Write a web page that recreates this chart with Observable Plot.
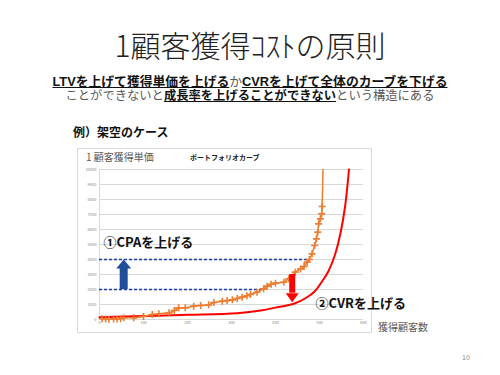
<!DOCTYPE html>
<html><head><meta charset="utf-8">
<script src="https://cdn.jsdelivr.net/npm/d3@7"></script>
<script src="https://cdn.jsdelivr.net/npm/@observablehq/plot@0.6"></script>
<style>
body{margin:0;background:#fff;font-family:"Noto Sans CJK JP","Noto Sans",sans-serif;}
#page{position:relative;width:500px;height:375px;overflow:hidden;background:#fff;}
.abs{position:absolute;white-space:nowrap;line-height:1;}
.sub{font-family:"Liberation Sans","Noto Sans CJK JP",sans-serif;}
.b{font-weight:bold;color:#111;text-decoration:underline;text-decoration-thickness:1px;text-underline-offset:1px;}
</style></head>
<body><div id="page">
<div class="abs" style="left:0;width:500px;top:29px;text-align:center;font-size:30px;font-weight:300;color:#222;">1顧客獲得ｺｽﾄの原則</div>
<div class="abs sub" style="left:0;width:500px;top:75px;height:13px;text-align:center;font-size:12.8px;line-height:13px;color:#595959;"><span class="b">LTVを上げて獲得単価を上げる</span>か<span class="b">CVRを上げて全体のカーブを下げる</span></div>
<div class="abs sub" style="left:0;width:500px;top:90px;height:13px;text-align:center;font-size:12.3px;line-height:13px;color:#595959;">ことができないと<span class="b">成長率を上げることができない</span>という構造にある</div>
<div class="abs" style="left:73px;top:126px;font-size:12px;font-weight:bold;color:#111;">例）架空のケース</div>
<div class="abs" style="left:77px;top:148px;width:295px;height:185px;border:1px solid #d9d9d9;box-sizing:border-box;"></div>
<div class="abs" style="left:86px;top:152px;font-size:10px;color:#595959;">1 顧客獲得単価</div>
<div class="abs" style="left:190px;top:154px;font-size:7px;font-weight:bold;color:#222;">ポートフォリオカーブ</div>
<div id="chart" style="position:absolute;left:77px;top:148px;"></div>
<div class="abs" style="left:378px;top:322px;font-size:10px;color:#595959;">獲得顧客数</div>
<div class="abs" style="left:462px;top:354px;font-size:7px;color:#888;">10</div>
</div>
<script>
// Portfolio curve (orange)
const portX = [6, 14, 21, 32, 40, 48, 55, 78, 100, 120, 135, 158, 170, 180, 195, 214, 230, 248, 260, 279, 290, 302, 313, 324, 335, 343, 358, 373, 381, 390, 400, 419, 430, 445, 457, 465, 472, 477, 483, 489, 493, 496, 498, 502, 505, 506, 508];
const portY = [50, 30, 20, 40, 40, 50, 111, 110, 200, 333, 378, 444, 600, 778, 778, 889, 930, 978, 1133, 1222, 1260, 1311, 1400, 1489, 1580, 1667, 1822, 2044, 2222, 2350, 2422, 2489, 2711, 3156, 3378, 3533, 3822, 4000, 4378, 4933, 5378, 5822, 6378, 6711, 7044, 7533, 10000];
// CVR-improved curve (red)
const cvrX = [0, 100, 200, 313, 370, 410, 442, 470, 490, 505, 520, 535, 548, 558, 567];
const cvrY = [150, 230, 310, 420, 620, 850, 1050, 1450, 1900, 2500, 3200, 4300, 5800, 7500, 10000];
// Ticks
const xTicks = [0, 100, 200, 300, 400, 500, 600];
const yTicks = [0, 1000, 2000, 3000, 4000, 5000, 6000, 7000, 8000, 9000, 10000];
// Annotations
const cpaLevels = [{y: 2000, x2: 375}, {y: 4000, x2: 476}];
const cpaArrow = {x: 55, from: 2000, to: 4000};
const cvrArrow = {x: 438, from: 3000, to: 1150};
const labels = [
  {x: 9, y: 5130, text: "①CPAを上げる"},
  {x: 491, y: 1070, text: "②CVRを上げる"}
];

const portfolio = portX.map((x, i) => ({x, y: portY[i]}));
const cvr = cvrX.map((x, i) => ({x, y: cvrY[i]}));
const headUnits = 9 / 0.015;

const arrowUp = {draw(ctx){ ctx.moveTo(0,0); ctx.lineTo(7.5,9); ctx.lineTo(-7.5,9); ctx.closePath(); }};
const arrowDown = {draw(ctx){ ctx.moveTo(0,0); ctx.lineTo(6.5,-9); ctx.lineTo(-6.5,-9); ctx.closePath(); }};

const chart = Plot.plot({
  width: 295, height: 185,
  marginLeft: 22, marginRight: 9, marginTop: 21, marginBottom: 14,
  style: {overflow: "visible", background: "transparent", fontFamily: "'Noto Sans CJK JP', sans-serif"},
  x: {domain: [0, 600]},
  y: {domain: [0, 10000]},
  marks: [
    Plot.gridY(yTicks, {stroke: "#d9d9d9", strokeOpacity: 1, strokeWidth: 1}),
    Plot.ruleX([0], {stroke: "#d9d9d9"}),
    Plot.axisX(xTicks, {tickSize: 0, tickPadding: 2, fontSize: 4, color: "#888", tickFormat: "d", label: null}),
    Plot.axisY(yTicks, {tickSize: 0, tickPadding: 3, fontSize: 4, color: "#888", tickFormat: "d", label: null}),
    Plot.ruleY(cpaLevels, {y: "y", x1: 0, x2: "x2", stroke: "#1a3fa8", strokeWidth: 1.3, strokeDasharray: "3,2"}),
    Plot.line(cvr, {x: "x", y: "y", stroke: "#ff0000", strokeWidth: 2, curve: "catmull-rom"}),
    Plot.line(portfolio, {x: "x", y: "y", stroke: "#ed7d31", strokeWidth: 1.5}),
    Plot.dot(portfolio.slice(0, -1), {x: "x", y: "y", symbol: "plus", r: 2.4, stroke: "#ed7d31", strokeWidth: 1.6, fill: "none"}),
    Plot.ruleX([cpaArrow], {x: "x", y1: "from", y2: d => d.to - headUnits, stroke: "#1f4e9a", strokeWidth: 8}),
    Plot.dot([cpaArrow], {x: "x", y: "to", symbol: arrowUp, fill: "#1f4e9a", stroke: "none"}),
    Plot.ruleX([cvrArrow], {x: "x", y1: "from", y2: d => d.to + headUnits, stroke: "#ff0000", strokeWidth: 6}),
    Plot.dot([cvrArrow], {x: "x", y: "to", symbol: arrowDown, fill: "#ff0000", stroke: "none"}),
    Plot.text(labels, {x: "x", y: "y", text: "text", textAnchor: "start", fontSize: 13, fontWeight: "bold", fill: "#111"})
  ]
});
document.getElementById("chart").appendChild(chart);
</script>
</body></html>
